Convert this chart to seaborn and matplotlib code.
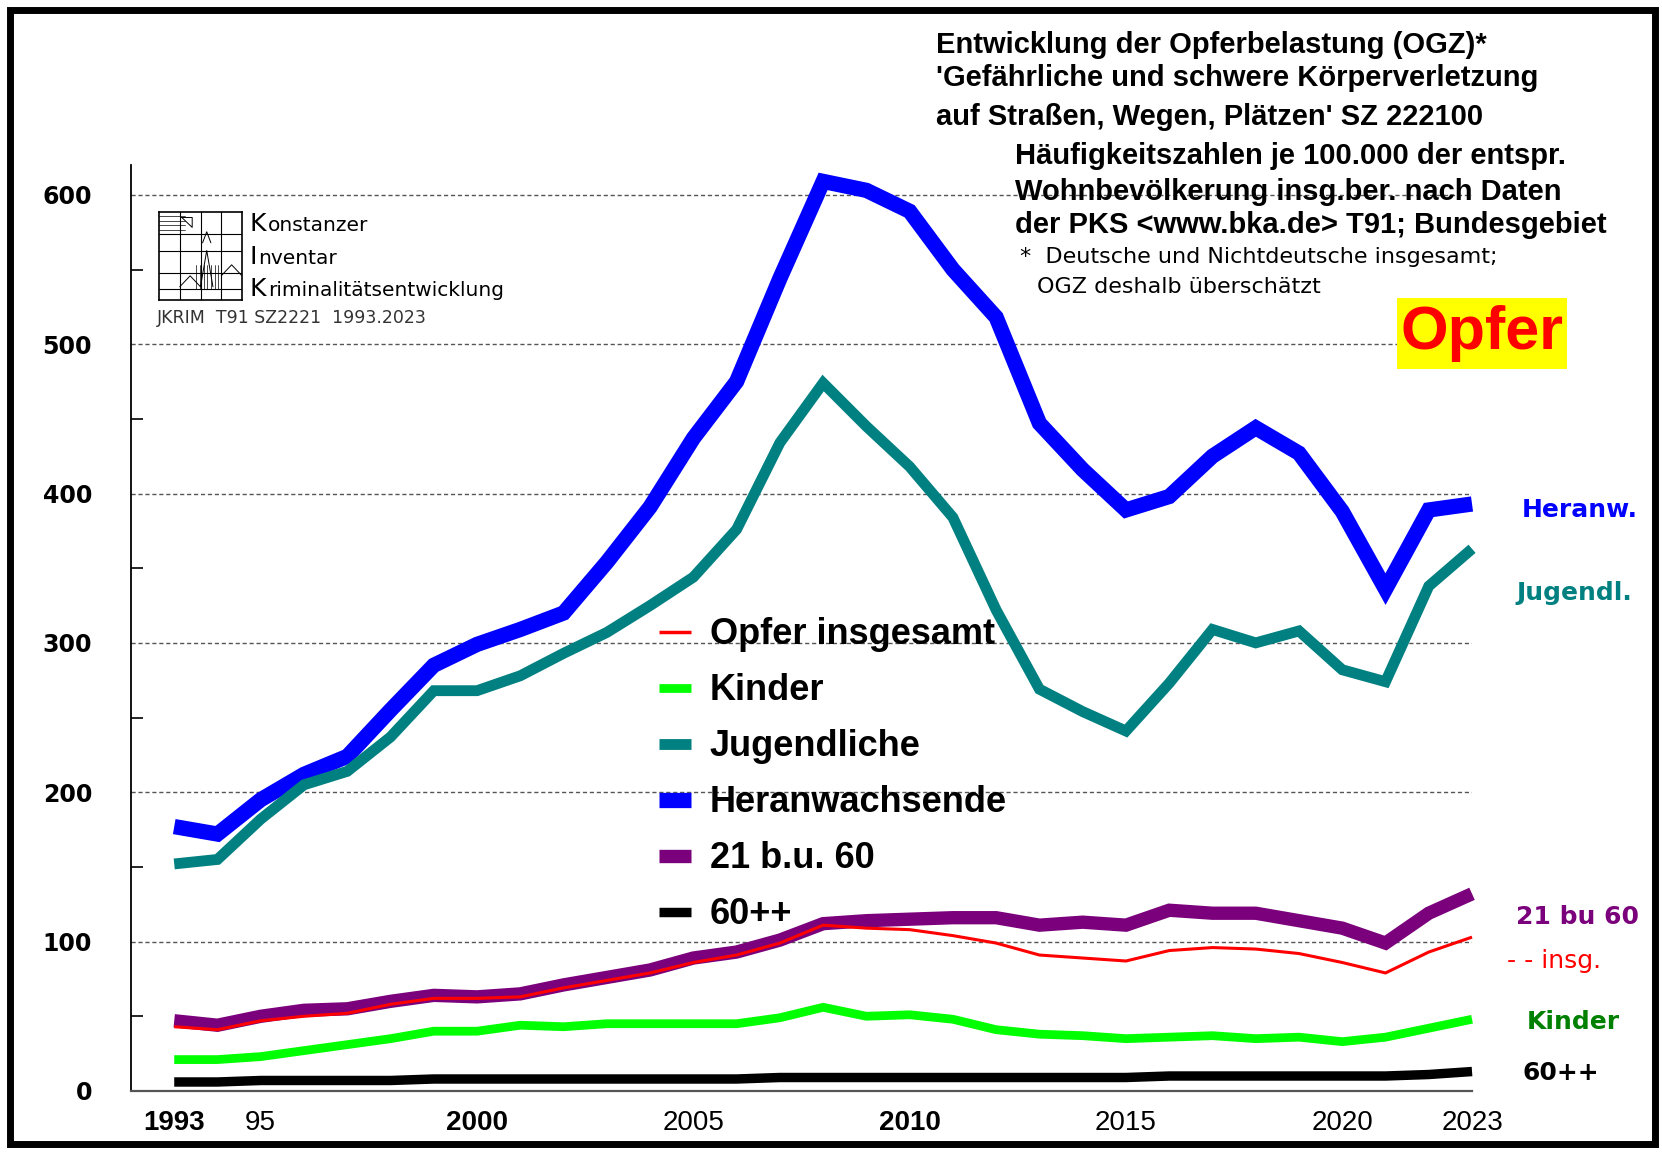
import numpy as np
import pandas as pd
import seaborn as sns
import matplotlib
matplotlib.use('Agg')
import matplotlib.pyplot as plt
from matplotlib.lines import Line2D
from matplotlib.patches import Rectangle

# Daten (OGZ je 100.000) -------------------------------------------
jahre = list(range(1993, 2024))
heranwachsende = [177, 172, 195, 212, 224, 255, 285, 299, 309, 320, 354, 391, 437, 475, 544, 609,
                  603, 589, 550, 518, 447, 416, 389, 398, 425, 444, 427, 388, 336, 389, 393]
jugendliche = [152, 155, 182, 205, 214, 237, 268, 268, 278, 293, 307, 325, 344, 376, 434, 474,
               445, 418, 384, 322, 269, 254, 241, 273, 309, 300, 308, 282, 274, 338, 363]
erw_21_60 = [47, 44, 50, 54, 55, 60, 64, 63, 65, 71, 76, 81, 89, 93, 101, 112,
             114, 115, 116, 116, 111, 113, 111, 121, 119, 119, 114, 109, 99, 119, 132]
insgesamt = [43, 41, 47, 50, 52, 58, 62, 62, 63, 69, 74, 79, 86, 91, 99, 111,
             109, 108, 104, 99, 91, 89, 87, 94, 96, 95, 92, 86, 79, 93, 103]
kinder = [21, 21, 23, 27, 31, 35, 40, 40, 44, 43, 45, 45, 45, 45, 49, 56,
          50, 51, 48, 41, 38, 37, 35, 36, 37, 35, 36, 33, 36, 42, 48]
senioren = [6, 6, 7, 7, 7, 7, 8, 8, 8, 8, 8, 8, 8, 8, 9, 9,
            9, 9, 9, 9, 9, 9, 9, 10, 10, 10, 10, 10, 10, 11, 13]

xtick_pos = [1993, 1995, 2000, 2005, 2010, 2015, 2020, 2023]
xtick_lab = ['1993', '95', '2000', '2005', '2010', '2015', '2020', '2023']
xtick_bold = [True, False, True, False, True, False, False, False]

df = pd.DataFrame({'jahr': jahre, 'Heranwachsende': heranwachsende, 'Jugendliche': jugendliche,
                   '21 b.u. 60': erw_21_60, 'Opfer insgesamt': insgesamt,
                   'Kinder': kinder, '60++': senioren})

# Stil: (Farbe, Linienbreite), in Zeichenreihenfolge
stil = {
    'Heranwachsende': ('#0000FF', 11.0),
    'Jugendliche': ('#008080', 7.8),
    '21 b.u. 60': ('#7B007B', 9.6),
    'Opfer insgesamt': ('#FF0000', 2.2),
    'Kinder': ('#00FF00', 6.3),
    '60++': ('#000000', 6.8),
}
legend_order = ['Opfer insgesamt', 'Kinder', 'Jugendliche', 'Heranwachsende', '21 b.u. 60', '60++']

sns.set_theme(style='white')
plt.rcParams['font.family'] = ['Liberation Sans', 'DejaVu Sans']
plt.rcParams['text.color'] = 'black'

fig = plt.figure(figsize=(16.62, 11.52), dpi=100)
ax = fig.add_axes([0.0788, 0.0530, 0.8069, 0.8038])

for name, (col, lw) in stil.items():
    sns.lineplot(data=df, x='jahr', y=name, ax=ax, color=col, linewidth=lw,
                 solid_joinstyle='miter', solid_capstyle='butt', clip_on=False)

ax.set_xlim(1992, 2023)
ax.set_ylim(0, 620)
ax.set_xlabel('')
ax.set_ylabel('')

# Achsen
for s in ['top', 'right']:
    ax.spines[s].set_visible(False)
ax.spines['left'].set_color('black')
ax.spines['left'].set_linewidth(1.3)
ax.spines['bottom'].set_color('#555555')
ax.spines['bottom'].set_linewidth(1.6)

ax.set_yticks(range(0, 601, 100))
ax.set_yticks(range(50, 600, 100), minor=True)
ax.tick_params(axis='y', which='major', direction='out', length=13, width=1.2, color='black',
               pad=15, labelcolor='black')
ax.tick_params(axis='y', which='minor', direction='in', length=8.5, width=1.2, color='black', left=True)
for lab in ax.get_yticklabels():
    lab.set_fontweight('bold')
    lab.set_family(['DejaVu Sans'])
    lab.set_fontsize(17)

ax.set_xticks(xtick_pos)
ax.set_xticklabels(xtick_lab)
ax.tick_params(axis='x', length=0, pad=14, labelcolor='black')
for lab, b in zip(ax.get_xticklabels(), xtick_bold):
    lab.set_family(['Liberation Sans Narrow', 'Liberation Sans', 'DejaVu Sans'])
    lab.set_fontsize(20)
    lab.set_fontweight('bold' if b else 'normal')

ax.grid(False)
for yv in range(100, 601, 100):
    ax.axhline(yv, color='#555555', linewidth=1.0, linestyle=(0, (3, 2)), zorder=0)

# Legende
handles = [Line2D([0], [0], color=stil[n][0], linewidth=stil[n][1] if n != 'Opfer insgesamt' else 2.5,
                  solid_capstyle='butt') for n in legend_order]
leg = fig.legend(handles, legend_order, loc='upper left', bbox_to_anchor=(0.3965, 0.464),
                 frameon=False, handlelength=0.9, handletextpad=0.5, labelspacing=0.58,
                 borderpad=0, borderaxespad=0, prop={'size': 26, 'weight': 'bold'})
for t in leg.get_texts():
    t.set_color('black')

# Beschriftungen rechts
rechts = [('Heranw.', 1522, 510, '#0000FF', 'bold'),
          ('Jugendl.', 1516, 593, '#008080', 'bold'),
          ('21 bu 60', 1516, 917, '#7B007B', 'bold'),
          ('- - insg.', 1507, 961, '#FF0000', 'normal'),
          ('Kinder', 1527, 1022, '#008000', 'bold'),
          ('60++', 1522, 1073, '#000000', 'bold')]
for txt, px, py, col, w in rechts:
    fig.text(px / 1662, 1 - py / 1152, txt, color=col, fontsize=18, fontweight=w,
             family=['DejaVu Sans'], ha='left', va='center')

# Titelblock
titel = [("Entwicklung der Opferbelastung (OGZ)*", 936, 45),
         ("'Gefährliche und schwere Körperverletzung", 936, 78),
         ("auf Straßen, Wegen, Plätzen' SZ 222100", 936, 117),
         ("Häufigkeitszahlen je 100.000 der entspr.", 1015, 156),
         ("Wohnbevölkerung insg.ber. nach Daten", 1015, 192),
         ("der PKS <www.bka.de> T91; Bundesgebiet", 1015, 225)]
for txt, px, py in titel:
    fig.text(px / 1662, 1 - py / 1152, txt, fontsize=21, fontweight='bold',
             ha='left', va='center', color='black')
fig.text(1020 / 1662, 1 - 257 / 1152, '*  Deutsche und Nichtdeutsche insgesamt;', fontsize=16,
         family=['DejaVu Sans'], ha='left', va='center')
fig.text(1037 / 1662, 1 - 287 / 1152, 'OGZ deshalb überschätzt', fontsize=16,
         family=['DejaVu Sans'], ha='left', va='center')

# "Opfer" auf gelbem Feld
fig.patches.append(Rectangle((1397 / 1662, 1 - 369 / 1152), 170 / 1662, 71 / 1152,
                             transform=fig.transFigure, facecolor='#FFFF00', edgecolor='none'))
fig.text(1482 / 1662, 1 - 334 / 1152, 'Opfer', color='#FF0000', fontsize=44, fontweight='bold',
         ha='center', va='center')

# Logo KIK
lax = fig.add_axes([159 / 1662, 1 - 300 / 1152, 83 / 1662, 88 / 1152])
lax.set_xlim(0, 8)
lax.set_ylim(0, 8)
lax.set_xticks([])
lax.set_yticks([])
for s in lax.spines.values():
    s.set_linewidth(1.2)
    s.set_color('black')
for v in [2, 4, 6]:
    lax.plot([v, v], [0, 8], color='black', lw=0.8)
for h in [1, 2.5, 4.5, 6]:
    lax.plot([0, 8], [h, h], color='black', lw=0.8)
for h in [6.4, 6.8, 7.2, 7.6]:
    lax.plot([0, 2.5], [h, h], color='black', lw=0.5)
lax.plot([2, 3, 4, 4.6, 5.2], [1.2, 2.2, 1.2, 4.5, 1.2], color='black', lw=0.7)
lax.plot([4.2, 4.6, 5.0], [5.2, 6.2, 5.2], color='black', lw=0.7)
for v in np.arange(3.6, 6.0, 0.35):
    lax.plot([v, v], [1, 3.2], color='black', lw=0.5)
lax.plot([6, 7, 8], [2.2, 3.2, 2.2], color='black', lw=0.7)
lax.plot([2.2, 3.2, 3.2, 2.2], [7.5, 6.6, 7.5, 7.5], color='black', lw=0.7)

logo = [('K', 'onstanzer', 231, 19), ('I', 'nventar', 264, 9), ('K', 'riminalitätsentwicklung', 296, 19)]
for first, rest, py, dx in logo:
    fig.text(249 / 1662, 1 - py / 1152, first, fontsize=18, family=['DejaVu Sans'],
             ha='left', va='baseline')
    fig.text((249 + dx) / 1662, 1 - py / 1152, rest, fontsize=14.5,
             family=['DejaVu Sans'], ha='left', va='baseline')
fig.text(157 / 1662, 1 - 318 / 1152, 'JKRIM  T91 SZ2221  1993.2023', fontsize=12.5, color='#333333',
         family=['DejaVu Sans'], ha='left', va='center')

# Rahmen
fig.patches.append(Rectangle((10 / 1662, 8 / 1152), 1645 / 1662, 1134 / 1152, transform=fig.transFigure,
                             facecolor='none', edgecolor='black', linewidth=5))

fig.savefig('out.png', dpi=100)
